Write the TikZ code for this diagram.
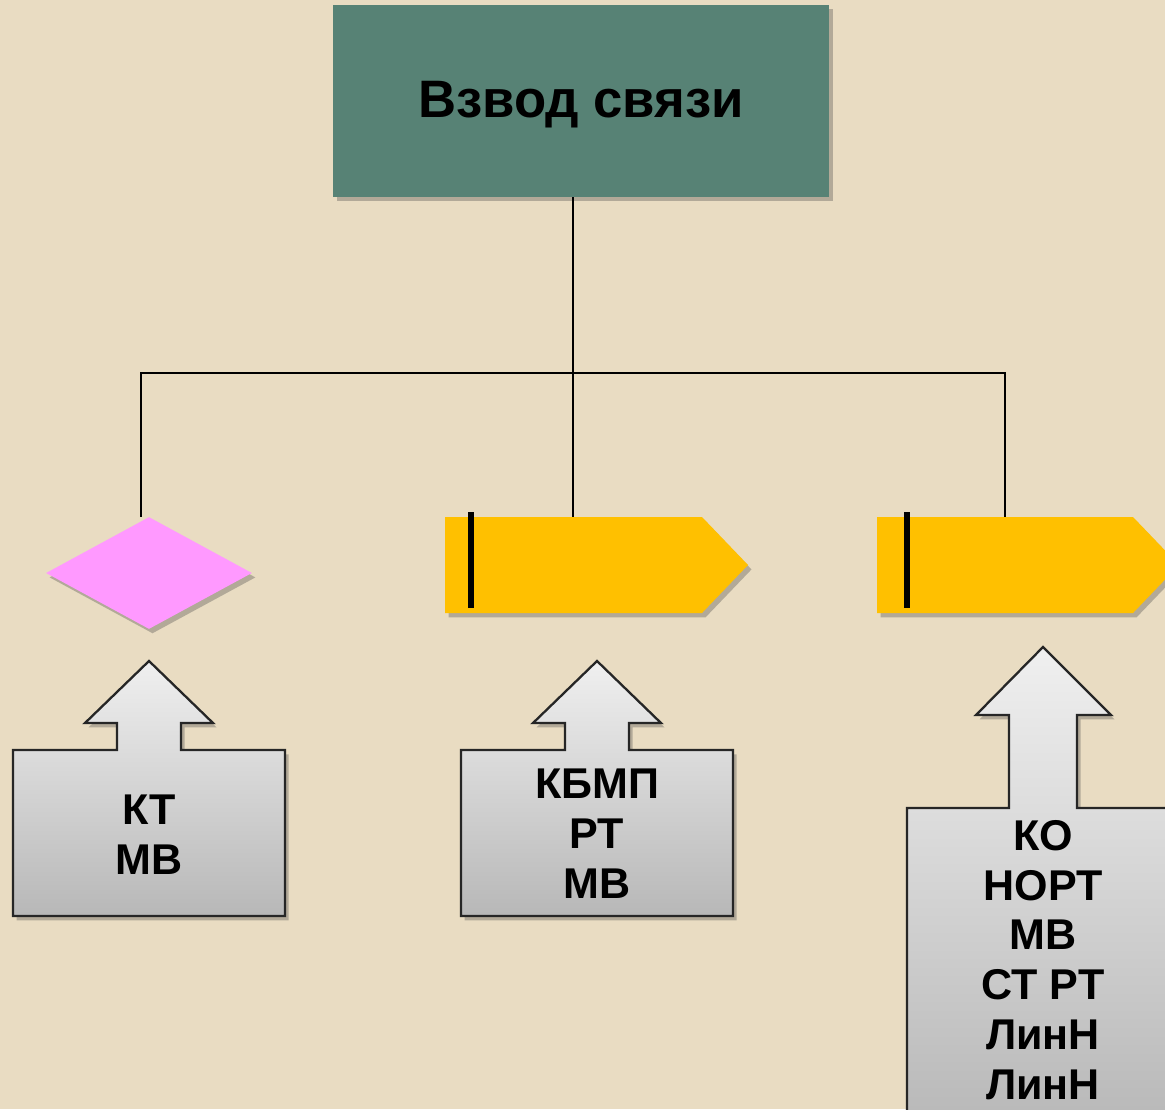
\documentclass[tikz,border=0pt]{standalone}
\usepackage{fontspec}
\setmainfont{Liberation Sans}
\usetikzlibrary{shapes.geometric,shadows}
\definecolor{bgc}{HTML}{E9DCC2}
\definecolor{topfill}{HTML}{578275}
\definecolor{diafill}{HTML}{FF99FF}
\definecolor{goldfill}{HTML}{FFC000}
\begin{document}
\begin{tikzpicture}[x=0.02cm,y=-0.02cm,
  conn/.style={line width=1.2pt, black},
  shadowed/.style={drop shadow={shadow xshift=2pt,shadow yshift=-2.5pt,opacity=0.35,fill=black!70}},
  callout/.style={draw=black!85, line width=1.3pt, top color=black!6, bottom color=black!28, shadowed},
  bar/.style={line width=3pt, black},
  lbl/.style={font=\fontsize{24.5}{28.4}\selectfont\bfseries, align=center}]
\fill[bgc] (0,0) rectangle (1165,1109);
\useasboundingbox (0,0) rectangle (1165,1109);
\clip (0,0) rectangle (1165,1109);

% top box
\node[fill=topfill, minimum width=496*0.02cm, minimum height=192*0.02cm, inner sep=0pt, shadowed] (top) at (581,101) {};
\node[font=\fontsize{30}{36}\selectfont\bfseries] (toplbl) at (581,105) {Взвод связи};

% level 2 shapes
\node[diamond, fill=diafill, minimum width=206*0.02cm, minimum height=112*0.02cm, inner sep=0pt, shadowed] (dia) at (149,573) {};
\path[fill=goldfill, shadowed] (445,517) -- (702,517) -- (748,565) -- (702,613) -- (445,613) -- cycle;
\coordinate (p1) at (573,517);
\draw[bar] (471,512) -- (471,608);
\path[fill=goldfill, shadowed] (877,517) -- (1133,517) -- (1179,565) -- (1133,613) -- (877,613) -- cycle;
\coordinate (p2) at (1005,517);
\draw[bar] (907,512) -- (907,608);

% connectors
\coordinate (hub) at (573,373);
\draw[conn] (top.south -| hub) -- (hub);
\draw[conn] (hub) -| ([xshift=-8*0.02cm]dia.north);
\draw[conn] (hub) -- (p1);
\draw[conn] (hub) -| (p2);

% callouts
\path[callout] (13,750) -- (117,750) -- (117,723) -- (85,723) -- (149,661) -- (213,723) -- (181,723) -- (181,750) -- (285,750) -- (285,916) -- (13,916) -- cycle;
\node[lbl] (t1) at (149,835) {КТ\\МВ};

\path[callout] (461,750) -- (565,750) -- (565,723) -- (533,723) -- (597,661) -- (661,723) -- (629,723) -- (629,750) -- (733,750) -- (733,916) -- (461,916) -- cycle;
\node[lbl] (t2) at (597,834) {КБМП\\РТ\\МВ};

\path[callout] (907,808) -- (1009,808) -- (1009,715) -- (976,715) -- (1043,647) -- (1111,715) -- (1077,715) -- (1077,808) -- (1190,808) -- (1190,1130) -- (907,1130) -- cycle;
\node[lbl] (t3) at (1043,960) {КО\\НОРТ\\МВ\\СТ РТ\\ЛинН\\ЛинН};
\end{tikzpicture}
\end{document}
